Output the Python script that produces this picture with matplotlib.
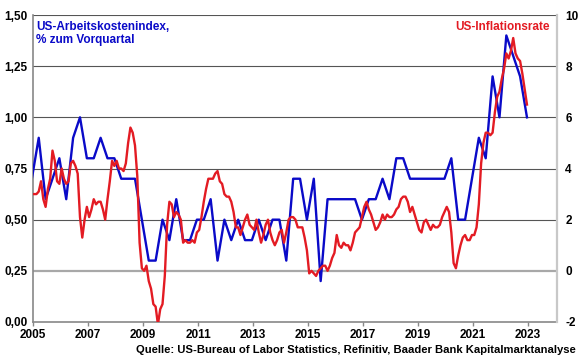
import numpy as np
import matplotlib
matplotlib.use("Agg")
import matplotlib.pyplot as plt

plt.rcParams['font.family'] = ['Liberation Sans', 'DejaVu Sans']

# ECI, % q/q, quarterly from 2004Q4 to 2022Q4
eci = [0.7, 0.9, 0.6, 0.7, 0.8, 0.6, 0.9, 1.0, 0.8, 0.8, 0.9, 0.8, 0.8, 0.7, 0.7, 0.7,
       0.5, 0.3, 0.3, 0.5, 0.4, 0.6, 0.4, 0.4, 0.5, 0.5, 0.6, 0.3, 0.5, 0.4, 0.5, 0.4,
       0.4, 0.5, 0.4, 0.5, 0.5, 0.3, 0.7, 0.7, 0.5, 0.7, 0.2, 0.6, 0.6, 0.6, 0.6, 0.6,
       0.5, 0.6, 0.6, 0.7, 0.6, 0.8, 0.8, 0.7, 0.7, 0.7, 0.7, 0.7, 0.7, 0.8, 0.5, 0.5,
       0.7, 0.9, 0.8, 1.2, 1.0, 1.4, 1.3, 1.2, 1.0]

# CPI, % y/y, monthly 2005-01 .. 2022-12
cpi = [3.0, 3.0, 3.1, 3.5, 2.8, 2.5, 3.2, 3.6, 4.7, 4.3, 3.5, 3.4,
       4.0, 3.6, 3.4, 3.5, 4.2, 4.3, 4.1, 3.8, 2.1, 1.3, 2.0, 2.5,
       2.1, 2.4, 2.8, 2.6, 2.7, 2.7, 2.4, 2.0, 2.8, 3.5, 4.3, 4.1,
       4.3, 4.0, 4.0, 3.9, 4.2, 5.0, 5.6, 5.4, 4.9, 3.7, 1.1, 0.1,
       0.0, 0.2, -0.4, -0.7, -1.3, -1.4, -2.1, -1.5, -1.3, -0.2, 1.8, 2.7,
       2.6, 2.1, 2.3, 2.2, 2.0, 1.1, 1.2, 1.1, 1.1, 1.2, 1.1, 1.5,
       1.6, 2.1, 2.7, 3.2, 3.6, 3.6, 3.6, 3.8, 3.9, 3.5, 3.4, 3.0,
       2.9, 2.9, 2.7, 2.3, 1.7, 1.7, 1.4, 1.7, 2.0, 2.2, 1.8, 1.7,
       1.6, 2.0, 1.5, 1.1, 1.4, 1.8, 2.0, 1.5, 1.2, 1.0, 1.2, 1.5,
       1.6, 1.1, 1.5, 2.0, 2.1, 2.1, 2.0, 1.7, 1.7, 1.7, 1.3, 0.8,
       -0.1, 0.0, -0.1, -0.2, 0.0, 0.1, 0.2, 0.2, 0.0, 0.2, 0.5, 0.7,
       1.4, 1.0, 0.9, 1.1, 1.0, 1.0, 0.8, 1.1, 1.5, 1.6, 1.7, 2.1,
       2.5, 2.7, 2.4, 2.2, 1.9, 1.6, 1.7, 1.9, 2.2, 2.0, 2.2, 2.1,
       2.1, 2.2, 2.4, 2.5, 2.8, 2.9, 2.9, 2.7, 2.3, 2.5, 2.2, 1.9,
       1.6, 1.5, 1.9, 2.0, 1.8, 1.6, 1.8, 1.7, 1.7, 1.8, 2.1, 2.3,
       2.5, 2.3, 1.5, 0.3, 0.1, 0.6, 1.0, 1.3, 1.4, 1.2, 1.2, 1.4,
       1.4, 1.7, 2.6, 4.2, 5.0, 5.4, 5.4, 5.3, 5.4, 6.2, 6.8, 7.0,
       7.5, 7.9, 8.5, 8.3, 8.6, 9.1, 8.5, 8.3, 8.2, 7.7, 7.1, 6.5]

left_ticks = [0, 0.25, 0.5, 0.75, 1.0, 1.25, 1.5]
left_labels = ["0,00", "0,25", "0,50", "0,75", "1,00", "1,25", "1,50"]
right_ticks = [-2, 0, 2, 4, 6, 8, 10]
year_ticks = [2005, 2007, 2009, 2011, 2013, 2015, 2017, 2019, 2021, 2023]

t_eci = 2004 + 11.5 / 12 + np.arange(len(eci)) * 0.25
t_cpi = 2005 + (np.arange(len(cpi)) + 0.5) / 12

blue = "#0A0AC8"
red = "#E31B23"

fig = plt.figure(figsize=(5.8, 3.58), dpi=100)
ax = fig.add_axes([33 / 580, 36 / 358, 524 / 580, 307 / 358])
ax2 = ax.twinx()

for v in left_ticks[1:]:
    if v == 0.25:
        ax.axhline(v, color="#A8A8A8", lw=1.6, zorder=1)
    else:
        ax.axhline(v, color="#555555", lw=0.8, zorder=1)

ax.plot(t_eci, eci, color=blue, lw=1.7, zorder=3)
ax2.plot(t_cpi, cpi, color=red, lw=1.7, zorder=3)

ax.set_xlim(2005, 2024.05)
ax.set_ylim(0, 1.5)
ax2.set_ylim(-2, 10)

ax.set_yticks(left_ticks)
ax.set_yticklabels(left_labels, fontsize=8.5, fontweight="bold")
ax2.set_yticks(right_ticks)
ax2.set_yticklabels([str(v) for v in right_ticks], fontsize=8.5, fontweight="bold")
ax.set_xticks(year_ticks)
ax.set_xticklabels([str(y) for y in year_ticks], fontsize=8.5, fontweight="bold")

ax.tick_params(axis="y", length=0, pad=4)
ax2.tick_params(axis="y", length=0, pad=6)
ax.tick_params(axis="x", length=3, width=1, color="#888888", pad=2)

for a in (ax, ax2):
    a.spines["top"].set_visible(False)
ax.spines["right"].set_visible(False)
ax2.spines["left"].set_visible(False)
ax2.spines["bottom"].set_visible(False)
ax.spines["left"].set_color("#888888")
ax.spines["left"].set_linewidth(1.2)
ax.spines["bottom"].set_color("#888888")
ax.spines["bottom"].set_linewidth(1.2)
ax2.spines["right"].set_color("#C8C8C8")
ax2.spines["right"].set_linewidth(1.6)

fig.text(36 / 580, 1 - 21 / 358, "US-Arbeitskostenindex,\n% zum Vorquartal", color=blue,
         fontsize=8.5, fontweight="bold", va="top", ha="left", linespacing=1.1)
fig.text(550 / 580, 1 - 21 / 358, "US-Inflationsrate", color=red,
         fontsize=8.5, fontweight="bold", va="top", ha="right")
fig.text(576 / 580, 1 - 355 / 358,
         "Quelle: US-Bureau of Labor Statistics, Refinitiv, Baader Bank Kapitalmarktanalyse",
         fontsize=8.1, fontweight="bold", ha="right", va="bottom")

fig.savefig("out.png", dpi=100)
